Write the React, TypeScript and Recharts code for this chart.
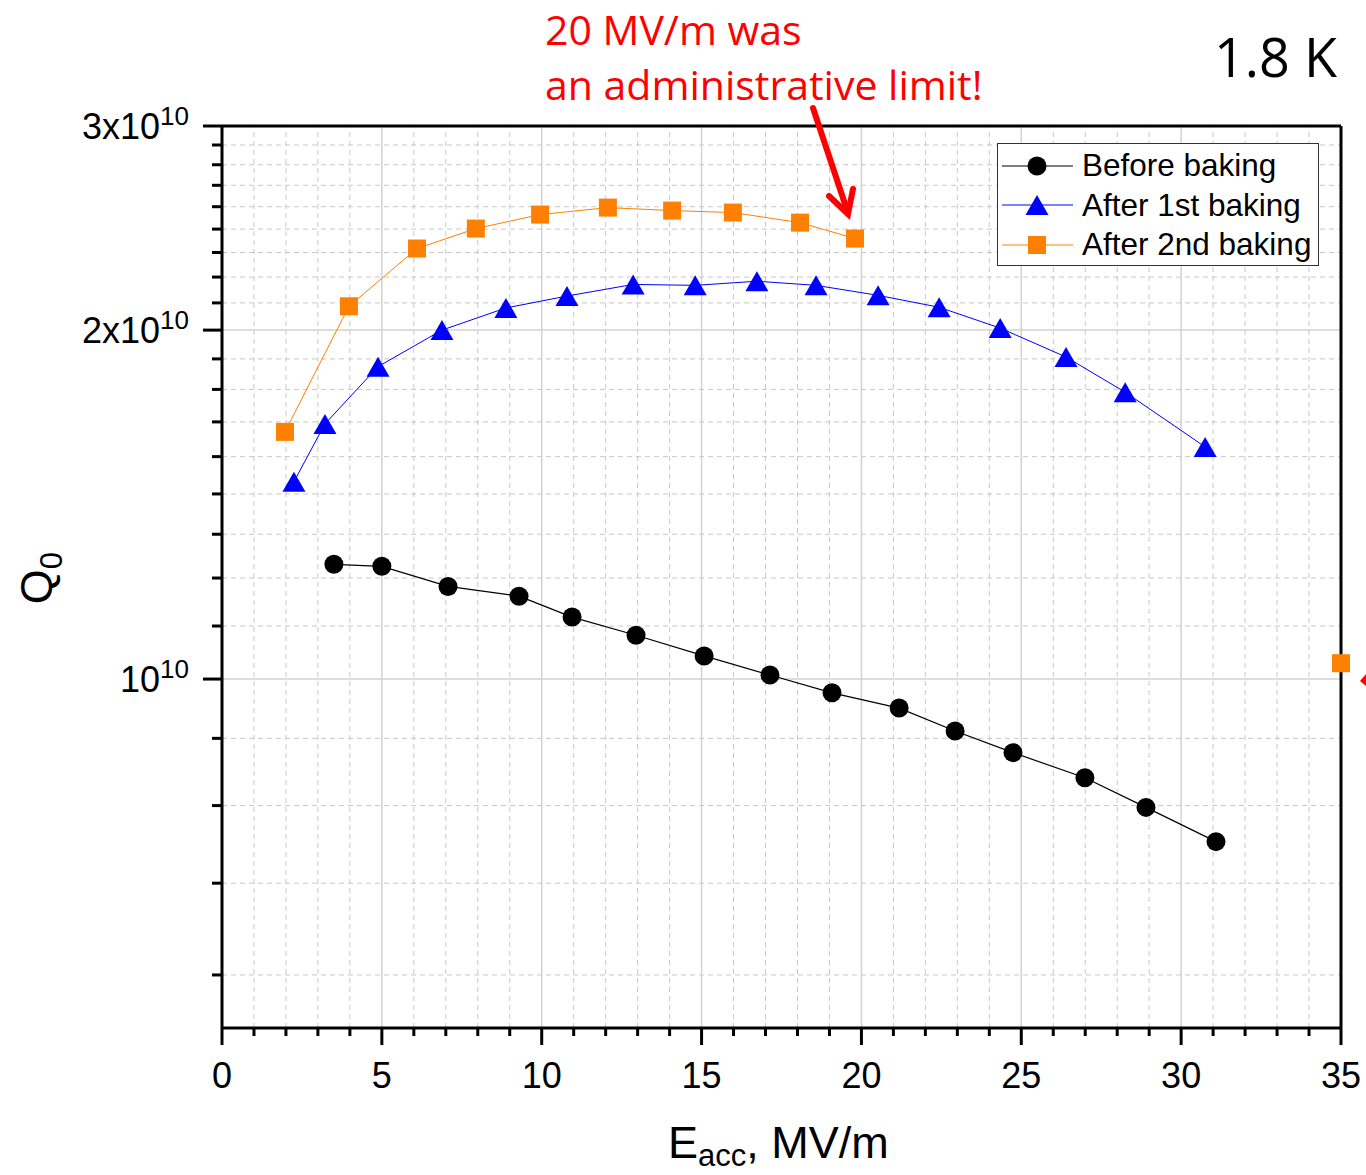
import React from 'react'
import { ComposedChart, Line, XAxis, YAxis, ReferenceLine, Legend } from 'recharts'

// E_acc (MV/m) and Q0
const beforeE = [3.5, 5.0, 7.07, 9.29, 10.95, 12.95, 15.08, 17.14, 19.08, 21.18, 22.93, 24.74, 26.99, 28.9, 31.09]
const beforeQ = [1.256e10, 1.251e10, 1.202e10, 1.179e10, 1.131e10, 1.091e10, 1.047e10, 1.008e10, 0.973e10, 0.944e10, 0.902e10, 0.864e10, 0.822e10, 0.775e10, 0.724e10]

const bake1E = [2.25, 3.22, 4.88, 6.88, 8.88, 10.79, 12.86, 14.8, 16.73, 18.58, 20.52, 22.43, 24.34, 26.4, 28.25, 30.75]
const bake1Q = [1.48e10, 1.66e10, 1.86e10, 2.0e10, 2.09e10, 2.14e10, 2.19e10, 2.186e10, 2.204e10, 2.186e10, 2.143e10, 2.093e10, 2.008e10, 1.896e10, 1.768e10, 1.586e10]

const bake2E = [1.97, 3.97, 6.1, 7.94, 9.95, 12.07, 14.08, 15.98, 18.08, 19.8]
const bake2Q = [1.634e10, 2.097e10, 2.352e10, 2.447e10, 2.516e10, 2.551e10, 2.536e10, 2.526e10, 2.476e10, 2.399e10]

// stray square sitting on the right frame (from a neighbouring panel)
const strayE = [35]
const strayQ = [1.032e10]

const xMajor = [0, 5, 10, 15, 20, 25, 30, 35]
const xTicks = Array.from({ length: 36 }, (_, i) => i)
const yMajor = [1e10, 2e10, 3e10]
const yMajorLabels = ['10', '2x10', '3x10']
const yTicks = Array.from({ length: 23 }, (_, i) => ((i + 5) * 1e10) / 9)

const zip = (e: number[], q: number[]) => e.map((v, i) => ({ e: v, q: q[i] }))

const FONT = '"Liberation Sans", Arial, sans-serif'
const ORANGE = '#FF8000'
const BLUE = '#0000FF'

const isMajorY = (v: number) => yMajor.some(m => Math.abs(m - v) < 1e6)

const circle = (p: any) => <circle key={p.index} cx={p.cx} cy={p.cy} r={9.5} fill="#000" />
const triangle = (p: any) => (
  <polygon key={p.index} points={`${p.cx},${p.cy - 10} ${p.cx + 11.5},${p.cy + 10} ${p.cx - 11.5},${p.cy + 10}`} fill={BLUE} />
)
const square = (p: any) => <rect key={p.index} x={p.cx - 9} y={p.cy - 9} width={18} height={18} fill={ORANGE} />

function XTick({ x, y, payload }: any) {
  const major = xMajor.includes(payload.value)
  return (
    <g>
      <line x1={x} x2={x} y1={y} y2={y + (major ? 17 : 8)} stroke="#000" strokeWidth={3} />
      {major && (
        <text x={x} y={y + 60} textAnchor="middle" fontSize={36} fontFamily={FONT} fill="#000">
          {payload.value}
        </text>
      )}
    </g>
  )
}

function YTick({ x, y, payload }: any) {
  const major = isMajorY(payload.value)
  const idx = yMajor.findIndex(m => Math.abs(m - payload.value) < 1e6)
  return (
    <g>
      <line x1={x - (major ? 19 : 10)} x2={x} y1={y} y2={y} stroke="#000" strokeWidth={3} />
      {major && (
        <text x={x - 33} y={y + 13} textAnchor="end" fontSize={36} fontFamily={FONT} fill="#000">
          {yMajorLabels[idx]}
          <tspan fontSize={26} dy={-14}>10</tspan>
        </text>
      )}
    </g>
  )
}

const legendItems = [
  { name: 'Before baking', color: '#000', shape: 'circle' },
  { name: 'After 1st baking', color: BLUE, shape: 'triangle' },
  { name: 'After 2nd baking', color: ORANGE, shape: 'square' },
]

function LegendBox() {
  return (
    <div
      style={{
        width: 322,
        height: 123,
        boxSizing: 'border-box',
        border: '1.5px solid #333',
        background: '#fff',
        paddingTop: 2,
        fontFamily: FONT,
      }}
    >
      {legendItems.map(it => (
        <div key={it.name} style={{ display: 'flex', alignItems: 'center', height: 39.5 }}>
          <svg width={84} height={30} style={{ flexShrink: 0 }}>
            <line x1={4} x2={75} y1={15} y2={15} stroke={it.color} strokeWidth={1} />
            {it.shape === 'circle' && <circle cx={39} cy={15} r={9.5} fill={it.color} />}
            {it.shape === 'triangle' && <polygon points="39,5 50.5,25 27.5,25" fill={it.color} />}
            {it.shape === 'square' && <rect x={30} y={6} width={18} height={18} fill={it.color} />}
          </svg>
          <span style={{ fontSize: 31.5, color: '#000', whiteSpace: 'nowrap' }}>{it.name}</span>
        </div>
      ))}
    </div>
  )
}

export default function App() {
  return (
    <div style={{ position: 'absolute', left: 0, top: 0, width: 1366, height: 1175, background: '#fff' }}>
      <ComposedChart width={1366} height={1175} margin={{ top: 126, right: 25, bottom: 87, left: 0 }}>
        <XAxis
          type="number"
          dataKey="e"
          domain={[0, 35]}
          ticks={xTicks}
          interval={0}
          height={60}
          tickSize={0}
          tickMargin={0}
          tick={<XTick />}
          axisLine={{ stroke: '#000', strokeWidth: 3 }}
          tickLine={false}
        />
        <YAxis
          type="number"
          scale="log"
          domain={[5e9, 3e10]}
          ticks={yTicks}
          interval={0}
          width={222}
          tickSize={0}
          tickMargin={0}
          tick={<YTick />}
          axisLine={{ stroke: '#000', strokeWidth: 3 }}
          tickLine={false}
        />
        {xTicks.filter(v => v > 0 && v < 35).map(v => (
          <ReferenceLine
            key={'gx' + v}
            x={v}
            stroke={xMajor.includes(v) ? '#d2d2d2' : '#c8c8c8'}
            strokeWidth={xMajor.includes(v) ? 1.5 : 1}
            strokeDasharray={xMajor.includes(v) ? undefined : '5 4'}
          />
        ))}
        {yTicks.filter(v => v < 2.95e10).map(v => (
          <ReferenceLine
            key={'gy' + v}
            y={v}
            stroke={isMajorY(v) ? '#d2d2d2' : '#c8c8c8'}
            strokeWidth={isMajorY(v) ? 1.5 : 1}
            strokeDasharray={isMajorY(v) ? undefined : '5 4'}
          />
        ))}
        <ReferenceLine y={3e10} stroke="#000" strokeWidth={3} />
        <ReferenceLine x={35} stroke="#000" strokeWidth={3} />
        <Line data={zip(beforeE, beforeQ)} dataKey="q" name="Before baking" stroke="#000" strokeWidth={1.2} dot={circle} activeDot={false} isAnimationActive={false} />
        <Line data={zip(bake1E, bake1Q)} dataKey="q" name="After 1st baking" stroke={BLUE} strokeWidth={1} dot={triangle} activeDot={false} isAnimationActive={false} />
        <Line data={zip(bake2E, bake2Q)} dataKey="q" name="After 2nd baking" stroke={ORANGE} strokeWidth={1} dot={square} activeDot={false} isAnimationActive={false} />
        <Line data={zip(strayE, strayQ)} dataKey="q" stroke="none" dot={square} activeDot={false} legendType="none" isAnimationActive={false} />
        <Legend
          layout="vertical"
          align="center"
          verticalAlign="middle"
          content={() => <LegendBox />}
          wrapperStyle={{ left: 997, top: 143, width: 322, height: 123 }}
        />
      </ComposedChart>
      <svg width={1366} height={1175} style={{ position: 'absolute', left: 0, top: 0, pointerEvents: 'none' }}>
        <g fontFamily='"Open Sans", sans-serif' fill="#FF0000" fontSize={41}>
          <text x={545} y={45}>20 MV/m was</text>
          <text x={545} y={100}>an administrative limit!</text>
        </g>
        <g stroke="#FF0000" strokeWidth={6} fill="none" strokeLinecap="round">
          <line x1={813} y1={108} x2={847} y2={210} />
          <polyline points="829,196 848,214 853,189" strokeLinejoin="miter" />
        </g>
        <polygon points="1366,674 1360,681 1366,686" fill="#FF0000" />
        <text x={1337} y={77} textAnchor="end" fontFamily='"Open Sans", sans-serif' fontSize={54} fill="#000">
          1.8 K
        </text>
        <text x={668} y={1158} fontFamily={FONT} fontSize={45} fill="#000">
          E<tspan fontSize={31} dy={8}>acc</tspan>
          <tspan dy={-8}>, MV/m</tspan>
        </text>
        <text transform="translate(52,578) rotate(-90)" textAnchor="middle" fontFamily={FONT} fontSize={45} fill="#000">
          Q<tspan fontSize={31} dy={10}>0</tspan>
        </text>
      </svg>
    </div>
  )
}
